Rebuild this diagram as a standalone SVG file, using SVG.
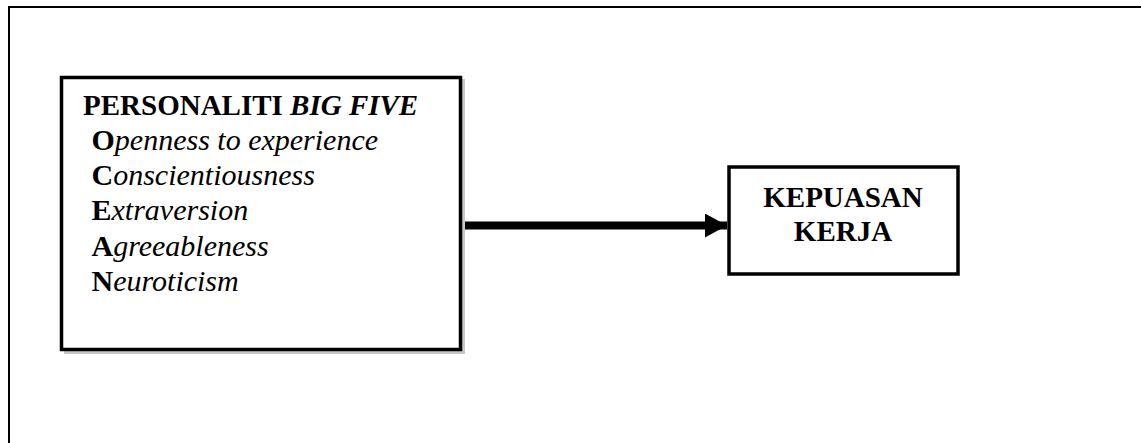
<svg xmlns="http://www.w3.org/2000/svg" width="1141" height="443" viewBox="0 0 1141 443">
<style>
.t{font-family:"Liberation Serif","Times New Roman",serif;font-size:29px;fill:#000}
.it{font-size:30px}
.b{font-weight:bold}
.i{font-style:italic}
.box{fill:#fff;stroke:#000;stroke-width:3.5}
.shadow{fill:#c8c8c8}
</style>
<defs>
<marker id="ah" markerWidth="22" markerHeight="24" refX="22" refY="12" orient="auto" markerUnits="userSpaceOnUse">
<path d="M0,0 L22,12 L0,24 Z" fill="#000"/>
</marker>
</defs>
<rect width="1141" height="443" fill="#fff"/>
<g id="frame">
<path d="M9,443 V7 H1141" fill="none" stroke="#000" stroke-width="2"/>
</g>
<g id="connectors">
<line x1="462" y1="225.5" x2="727" y2="225.5" stroke="#000" stroke-width="8" marker-end="url(#ah)"/>
</g>
<g id="node-personaliti">
<rect class="shadow" x="64" y="79" width="401" height="275"/>
<rect class="box" x="61.5" y="77.5" width="399" height="272"/>
<text class="t b" x="83" y="115">PERSONALITI <tspan class="i">BIG FIVE</tspan></text>
<text class="t it" x="91.5" y="150"><tspan class="b">O</tspan><tspan class="i">penness to experience</tspan></text>
<text class="t it" x="91.5" y="185"><tspan class="b">C</tspan><tspan class="i">onscientiousness</tspan></text>
<text class="t it" x="91.5" y="220"><tspan class="b">E</tspan><tspan class="i">xtraversion</tspan></text>
<text class="t it" x="91.5" y="255.5"><tspan class="b">A</tspan><tspan class="i">greeableness</tspan></text>
<text class="t it" x="91.5" y="290.5"><tspan class="b">N</tspan><tspan class="i">euroticism</tspan></text>
</g>
<g id="node-kepuasan">
<rect class="box" x="729" y="167" width="229" height="107"/>
<text class="t b" x="843" y="206.5" text-anchor="middle">KEPUASAN</text>
<text class="t b" x="843" y="240.5" text-anchor="middle">KERJA</text>
</g>
</svg>
